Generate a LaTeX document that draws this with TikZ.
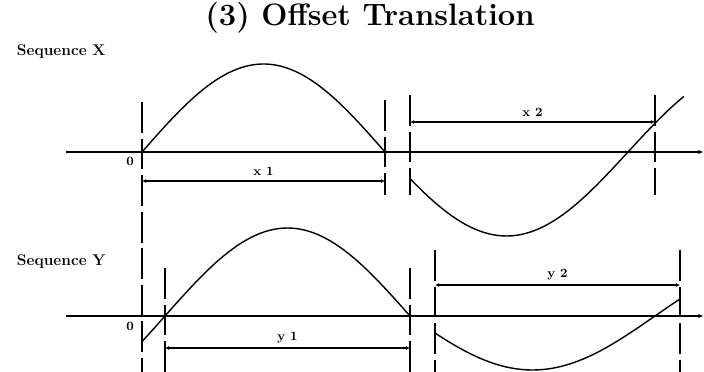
\documentclass[tikz,border=0pt]{standalone}
\usepackage{tikz}
\usetikzlibrary{positioning, arrows.meta, calc}

\begin{document}
\begin{tikzpicture}[x=0.025cm, y=-0.025cm,
    axisline/.style={line width=1.3pt, -{Latex[length=4pt,width=3pt]}},
    guide/.style={line width=1.3pt, dash pattern=on 22pt off 4pt},
    wave/.style={line width=1pt},
    dimline/.style={line width=1.3pt, {Latex[length=3pt,width=3pt]}-{Latex[length=3pt,width=3pt]}},
    seqlabel/.style={font=\bfseries\fontsize{11}{13}\selectfont, anchor=west},
    dimlabel/.style={font=\bfseries\small, inner sep=1pt}]
        \useasboundingbox (0,0) rectangle (704,372);

        % Title
        \node[font=\fontsize{22}{26}\selectfont\bfseries] (title) at (370,18) {(3) Offset Translation};

        % Sequence labels
        \node[seqlabel] (seqx) at (12,52) {Sequence X};
        \node[seqlabel] (seqy) at (12,262) {Sequence Y};

        % Axes
        \coordinate (xstart) at (66,152);
        \coordinate (xend) at (704,152);
        \coordinate (ystart) at (66,316);
        \coordinate (yend) at (704,316);
        \draw[axisline] (xstart) -- (xend);
        \draw[axisline] (ystart) -- (yend);
        \node[dimlabel] (zerox) at (130,161) {0};
        \node[dimlabel] (zeroy) at (130,326) {0};

        % Guide lines
        \foreach \gx/\gt/\gb in {142/102/372, 385/100/195, 410/95/195, 655/95/195,
                                 165/268/372, 410/268/372, 435/250/372, 680/250/372}
            \draw[guide] (\gx,\gt) -- (\gx,\gb);

        % Sequence X wave
        \draw[wave] plot[domain=142:385, samples=60] (\x, {152-88*sin((\x-142)/243*180)});
        \draw[wave] plot[domain=410:684, samples=60] (\x, {152-84*sin((\x-142)/243*180)});

        % Sequence Y wave
        \begin{scope}
            \clip (0,0) rectangle (704,372);
            \draw[wave] plot[domain=142:410, samples=60] (\x, {316-88*sin((\x-165)/245*180)});
            \draw[wave] plot[domain=435:680, samples=60] (\x, {316-54*sin((\x-165)/245*180)});
        \end{scope}

        % Dimensions
        \coordinate (x1a) at (142,181);
        \coordinate (x1b) at (385,181);
        \coordinate (x2a) at (410,122);
        \coordinate (x2b) at (655,122);
        \coordinate (y1a) at (165,348);
        \coordinate (y1b) at (410,348);
        \coordinate (y2a) at (435,285);
        \coordinate (y2b) at (680,285);
        \draw[dimline] (x1a) -- (x1b) node[dimlabel, midway, above=2pt] (x1) {x 1};
        \draw[dimline] (x2a) -- (x2b) node[dimlabel, midway, above=2pt] (x2) {x 2};
        \draw[dimline] (y1a) -- (y1b) node[dimlabel, midway, above=2pt] (y1) {y 1};
        \draw[dimline] (y2a) -- (y2b) node[dimlabel, midway, above=2pt] (y2) {y 2};
    \end{tikzpicture}
\end{document}
